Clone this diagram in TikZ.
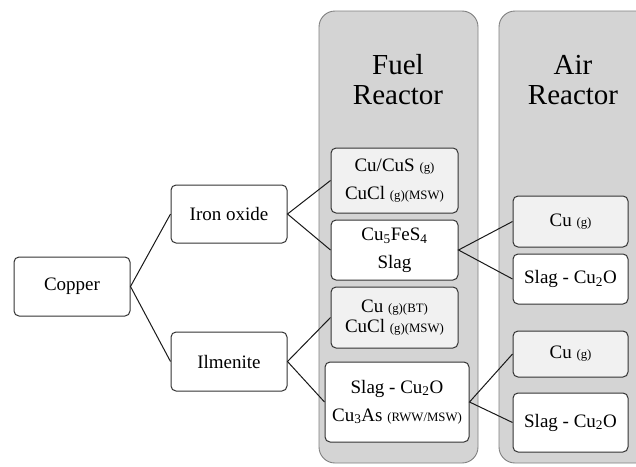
\documentclass[tikz,border=0pt]{standalone}
\usepackage{fontspec}
\setmainfont{Liberation Serif}
\definecolor{panelfill}{HTML}{D4D4D4}
\definecolor{panelline}{HTML}{808080}
\definecolor{boxline}{HTML}{333333}
\definecolor{lightfill}{HTML}{F1F1F1}
\newcommand{\sm}[1]{{\fontsize{12.8}{12.8}\selectfont #1}}
\begin{document}
\begin{tikzpicture}[x=1pt,y=-1pt,
  panel/.style={draw=panelline,fill=panelfill,line width=0.9pt,rounded corners=16pt},
  bx/.style={draw=boxline,fill=white,line width=1pt,rounded corners=5pt,align=center,
    inner sep=0pt,font=\fontsize{19}{28}\selectfont},
  lbx/.style={bx,fill=lightfill},
  title/.style={align=center,font=\fontsize{29}{30}\selectfont},
  conn/.style={draw=black!90,line width=1pt}]
\useasboundingbox (0,0) rectangle (636,466);
\clip (0,0) rectangle (636,466);
\fill[white] (0,0) rectangle (636,466);
% panels
\draw[panel] (319,11) rectangle (478,463);
\draw[panel] (499,11) rectangle (680,463);
\node[title] (ft) at (398,80) {Fuel\\Reactor};
\node[title] (at) at (573,80) {Air\\Reactor};
% left nodes
\node[bx,minimum width=116pt,minimum height=59pt] (cu) at (72,286.5) {Copper};
\node[bx,minimum width=116pt,minimum height=58pt] (io) at (229,214) {Iron oxide};
\node[bx,minimum width=116pt,minimum height=59pt] (il) at (229,361.5) {Ilmenite};
% fuel reactor nodes
\node[lbx,minimum width=127pt,minimum height=65pt] (f1) at (394.5,180.5) {Cu/CuS \sm{(g)}\\CuCl \sm{(g)(MSW)}};
\node[bx,minimum width=127pt,minimum height=60pt] (f2) at (394.5,250) {Cu\textsubscript{5}FeS\textsubscript{4}\\Slag};
\node[lbx,minimum width=127pt,minimum height=61pt,font=\fontsize{19}{20}\selectfont] (f3) at (394.5,317.5) {Cu \sm{(g)(BT)}\\CuCl \sm{(g)(MSW)}};
\node[bx,minimum width=144pt,minimum height=80pt] (f4) at (397,402) {Slag - Cu\textsubscript{2}O\\Cu\textsubscript{3}As \sm{(RWW/MSW)}};
% air reactor nodes
\node[lbx,minimum width=115pt,minimum height=51pt] (a1) at (570.5,221.5) {Cu \sm{(g)}};
\node[bx,minimum width=115pt,minimum height=50pt] (a2) at (570.5,279) {Slag - Cu\textsubscript{2}O};
\node[lbx,minimum width=115pt,minimum height=46pt] (a3) at (570.5,354) {Cu \sm{(g)}};
\node[bx,minimum width=115pt,minimum height=59pt] (a4) at (570.5,422.5) {Slag - Cu\textsubscript{2}O};
% connectors
\draw[conn] (io.west) -- (cu.east) -- (il.west);
\draw[conn] (f1.west) -- (io.east) -- (f2.west);
\draw[conn] (f3.west) -- (il.east) -- (f4.west);
\draw[conn] (a1.west) -- (f2.east) -- (a2.west);
\draw[conn] (a3.west) -- (f4.east) -- (a4.west);
\end{tikzpicture}
\end{document}
